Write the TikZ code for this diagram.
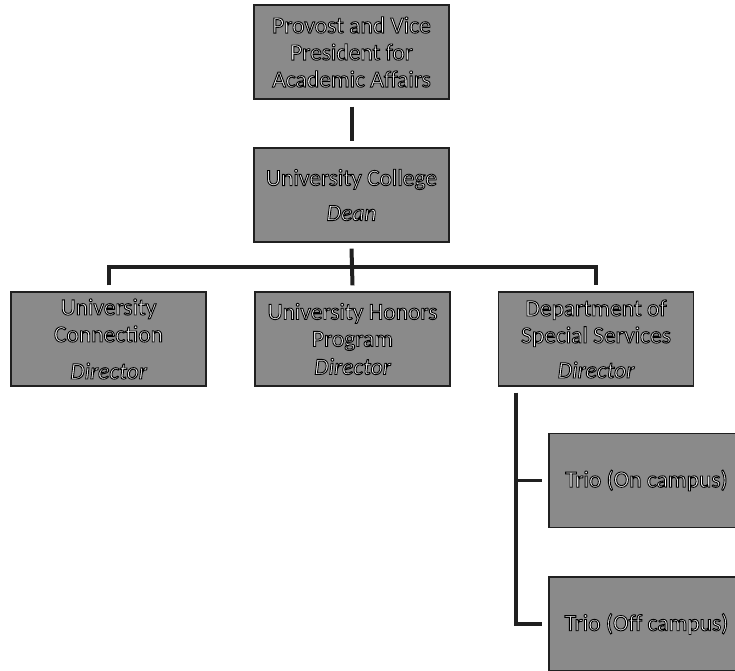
\documentclass[tikz,border=0pt]{standalone}
\usepackage{fontspec}
\setmainfont{Carlito}
\definecolor{boxgray}{HTML}{8A8A8A}
\definecolor{linecol}{HTML}{202020}
\newcommand{\wt}[1]{\special{pdf:code 2 Tr 0.9 w 1 g 0 G}#1\special{pdf:code 0 Tr 0 g 0 G}}
\begin{document}
\begin{tikzpicture}[x=1pt,y=-1pt,
  box/.style={draw=linecol, line width=1.2pt, fill=boxgray, minimum width=195pt,
    minimum height=94pt, inner sep=0pt, align=center,
    font=\fontsize{23.5}{27}\selectfont},
  conn/.style={draw=linecol, line width=4pt},
  stub/.style={draw=linecol, line width=3pt}]
\useasboundingbox (0,0) rectangle (735,670);
\clip (0,0) rectangle (735,670);
\node[box] (prov) at (351.5,52) {\wt{Provost and Vice}\\\wt{President for}\\\wt{Academic Affairs}};
\node[box] (uc) at (351.5,195) {\wt{University College}\\[8pt]\wt{\itshape Dean}};
\node[box] (conn) at (108.5,339) {\wt{University}\\\wt{Connection}\\[10pt]\wt{\itshape Director}};
\node[box] (hon) at (352.5,339) {\wt{University Honors}\\\wt{Program}\\[1pt]\wt{\itshape Director}};
\node[box] (dss) at (596,339) {\wt{Department of}\\\wt{Special Services}\\[8pt]\wt{\itshape Director}};
\node[box] (trioa) at (646.5,480.5) {\wt{Trio (On campus)}};
\node[box] (triob) at (646.5,624) {\wt{Trio (Off campus)}};
\draw[conn] ([yshift=-7pt]prov.south) -- ([yshift=6pt]uc.north);
\draw[conn] ([yshift=-6pt]uc.south) -- ([yshift=6pt]hon.north);
\draw[conn] ([yshift=6pt]conn.north) -- ++(0,-18) -| ([yshift=6pt]dss.north);
\draw[conn] ([xshift=18pt,yshift=-6pt]dss.south west) |- ([xshift=-6pt]triob.west);
\draw[stub] ([xshift=18pt]dss.south west |- trioa.west) -- ([xshift=-6pt]trioa.west);
\end{tikzpicture}
\end{document}
